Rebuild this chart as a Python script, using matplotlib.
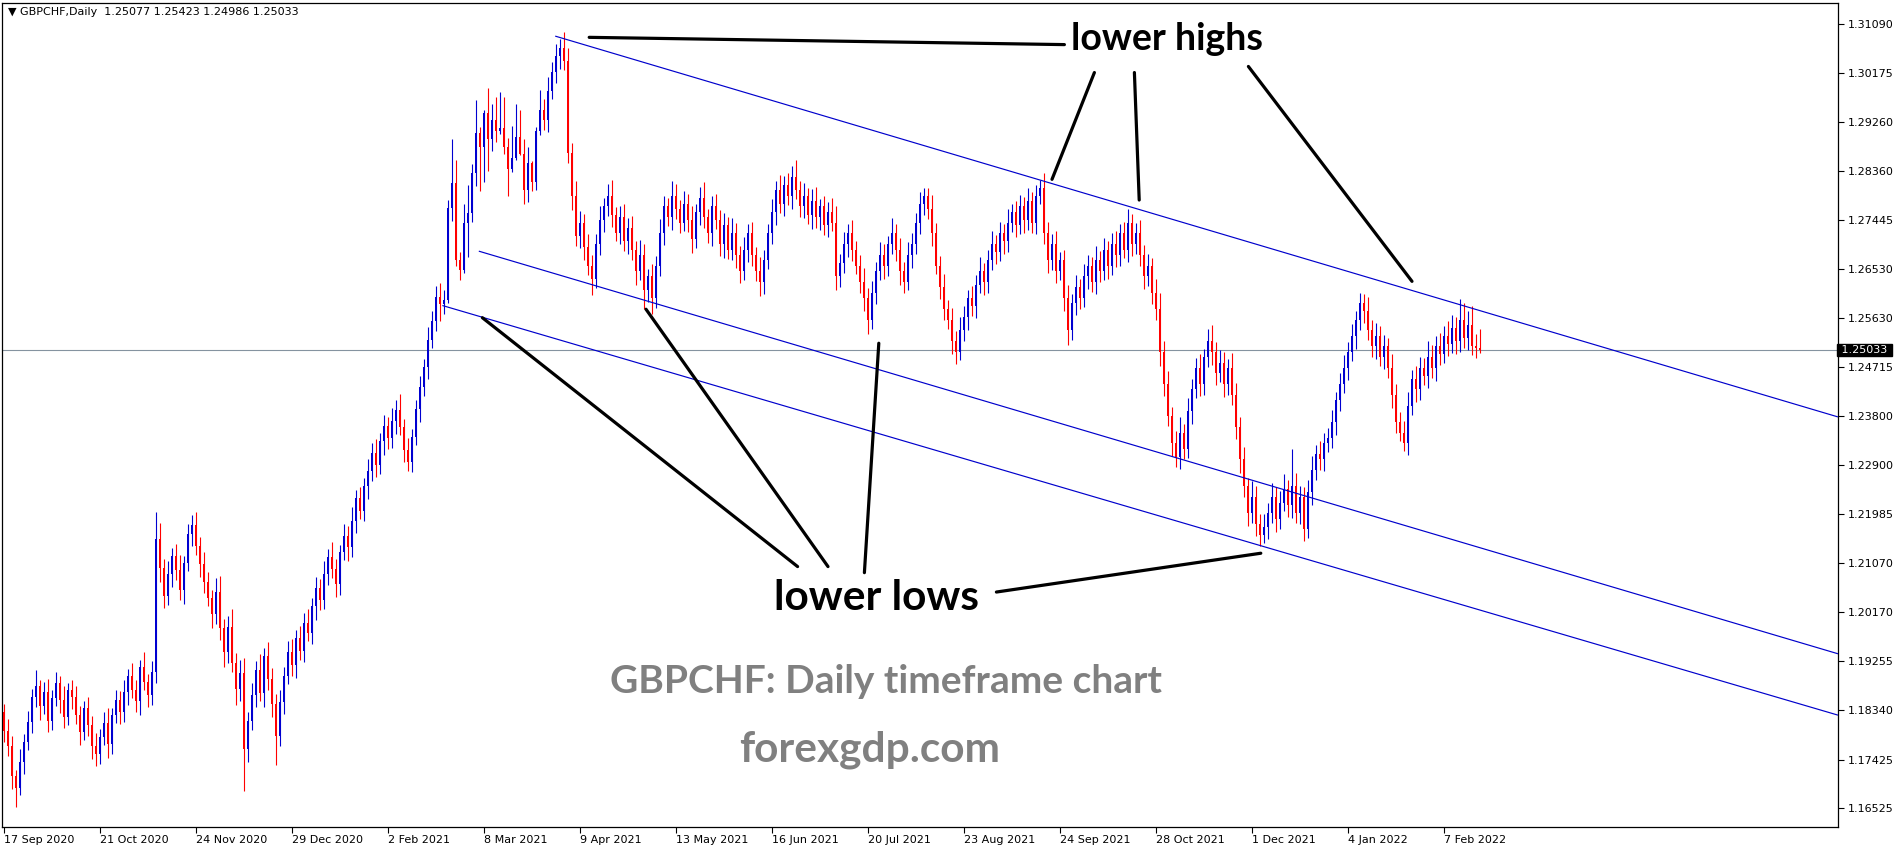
import numpy as np
import pandas as pd
import matplotlib
matplotlib.use('Agg')
import matplotlib.pyplot as plt
import matplotlib.transforms as mtransforms

# ---------------- data ----------------
symbol_header = "\u25bc GBPCHF,Daily  1.25077 1.25423 1.24986 1.25033"
first_open = 1.1830
closes = [
    1.1795, 1.1768, 1.1712, 1.1690, 1.1738, 1.1776, 1.1812, 1.1858, 1.1879, 1.1842,
    1.1868, 1.1815, 1.1856, 1.1885, 1.1853, 1.1822, 1.1871, 1.1858, 1.1826, 1.1794,
    1.1838, 1.1806, 1.1768, 1.1752, 1.1784, 1.1811, 1.1772, 1.1826, 1.1853, 1.1830,
    1.1868, 1.1897, 1.1872, 1.1851, 1.1915, 1.1886, 1.1862, 1.1905, 1.2152, 1.2098,
    1.2046, 1.2087, 1.2121, 1.2094, 1.2058, 1.2107, 1.2161, 1.2178, 1.2140, 1.2106,
    1.2072, 1.2043, 1.2012, 1.2054, 1.1986, 1.1942, 1.1988, 1.1921, 1.1874, 1.1903,
    1.1762, 1.1815, 1.1862, 1.1908, 1.1867, 1.1935, 1.1892, 1.1846, 1.1786, 1.1849,
    1.1898, 1.1942, 1.1918, 1.1968, 1.1945, 1.1996, 1.1978, 1.2028, 1.2061, 1.2039,
    1.2088, 1.2119, 1.2097, 1.2068, 1.2128, 1.2158, 1.2137, 1.2186, 1.2228, 1.2205,
    1.2251, 1.2278, 1.2312, 1.2289, 1.2334, 1.2362, 1.2340, 1.2371, 1.2392, 1.2360,
    1.2318, 1.2296, 1.2342, 1.2393, 1.2435, 1.2471, 1.2522, 1.2558, 1.2602, 1.2588,
    1.2596, 1.2767, 1.2813, 1.2670, 1.2652, 1.2740, 1.2758, 1.2832, 1.2907, 1.2881,
    1.2944, 1.2895, 1.2930, 1.2910, 1.2915, 1.2880, 1.2840, 1.2860, 1.2899, 1.2868,
    1.2800, 1.2850, 1.2815, 1.2910, 1.2950, 1.2930, 1.2985, 1.3020, 1.3050, 1.3065,
    1.3040, 1.2870, 1.2790, 1.2715, 1.2740, 1.2695, 1.2660, 1.2635, 1.2700, 1.2745,
    1.2770, 1.2790, 1.2755, 1.2720, 1.2750, 1.2705, 1.2730, 1.2690, 1.2650, 1.2680,
    1.2615, 1.2640, 1.2600, 1.2660, 1.2720, 1.2770, 1.2750, 1.2790, 1.2765, 1.2740,
    1.2775, 1.2745, 1.2710, 1.2760, 1.2785, 1.2750, 1.2720, 1.2770, 1.2745, 1.2700,
    1.2735, 1.2690, 1.2720, 1.2680, 1.2650, 1.2690, 1.2720, 1.2680, 1.2650, 1.2630,
    1.2670, 1.2720, 1.2760, 1.2800, 1.2775, 1.2810, 1.2790, 1.2825, 1.2800, 1.2770,
    1.2790, 1.2755, 1.2780, 1.2750, 1.2770, 1.2735, 1.2760, 1.2740, 1.2640, 1.2665,
    1.2700, 1.2720, 1.2690, 1.2660, 1.2630, 1.2600, 1.2560, 1.2610, 1.2650, 1.2680,
    1.2660, 1.2700, 1.2720, 1.2690, 1.2650, 1.2630, 1.2680, 1.2700, 1.2740, 1.2775,
    1.2790, 1.2765, 1.2720, 1.2660, 1.2620, 1.2580, 1.2560, 1.2520, 1.2500, 1.2540,
    1.2565, 1.2600, 1.2585, 1.2625, 1.2650, 1.2630, 1.2670, 1.2700, 1.2685, 1.2720,
    1.2705, 1.2740, 1.2760, 1.2735, 1.2770, 1.2745, 1.2780, 1.2740, 1.2790, 1.2805,
    1.2720, 1.2670, 1.2700, 1.2650, 1.2670, 1.2600, 1.2540, 1.2590, 1.2620, 1.2600,
    1.2640, 1.2660, 1.2630, 1.2670, 1.2650, 1.2690, 1.2660, 1.2700, 1.2680, 1.2720,
    1.2690, 1.2740, 1.2700, 1.2720, 1.2680, 1.2640, 1.2660, 1.2610, 1.2580, 1.2500,
    1.2440, 1.2380, 1.2330, 1.2305, 1.2350, 1.2320, 1.2390, 1.2430, 1.2470, 1.2440,
    1.2490, 1.2520, 1.2500, 1.2460, 1.2480, 1.2440, 1.2470, 1.2420, 1.2360, 1.2300,
    1.2250, 1.2200, 1.2230, 1.2180, 1.2160, 1.2175, 1.2200, 1.2230, 1.2190, 1.2220,
    1.2245, 1.2215, 1.2250, 1.2200, 1.2230, 1.2170, 1.2240, 1.2280, 1.2310, 1.2300,
    1.2330, 1.2340, 1.2370, 1.2410, 1.2440, 1.2470, 1.2500, 1.2530, 1.2560, 1.2590,
    1.2575, 1.2540, 1.2510, 1.2530, 1.2490, 1.2510, 1.2470, 1.2420, 1.2370, 1.2350,
    1.2330, 1.2400, 1.2450, 1.2430, 1.2470, 1.2455, 1.2490, 1.2470, 1.2510, 1.2495,
    1.2530, 1.2515, 1.2545, 1.2520, 1.2560, 1.2525, 1.2550, 1.2510, 1.25077, 1.25033,
]
# wick lengths in pips above max(open, close) / below min(open, close)
upper_wick_pips = [
    15, 22, 18, 12, 25, 14, 20, 16, 30, 12,
    18, 24, 15, 20, 12, 26, 14, 19, 22, 16,
    13, 21, 17, 24, 15, 20, 28, 12, 18, 16,
    22, 14, 25, 19, 13, 27, 16, 20, 51, 30,
    18, 24, 15, 22, 28, 14, 20, 18, 25, 16,
    22, 19, 14, 26, 30, 18, 22, 35, 20, 24,
    28, 16, 22, 18, 30, 14, 25, 20, 18, 22,
    16, 20, 24, 15, 22, 18, 26, 14, 20, 17,
    23, 15, 28, 19, 14, 22, 18, 25, 16, 20,
    14, 22, 18, 26, 15, 20, 17, 24, 19, 30,
    16, 22, 14, 18, 20, 15, 24, 17, 20, 26,
    18, 15, 82, 43, 15, 35, 51, 17, 61, 11,
    6, 46, 30, 43, 68, 58, 17, 60, 61, 50,
    27, 31, 4, 8, 36, 20, 25, 18, 22, 17,
    30, 25, 18, 28, 22, 16, 24, 20, 18, 26,
    15, 22, 30, 14, 20, 25, 18, 22, 16, 28,
    20, 14, 24, 18, 26, 20, 15, 28, 22, 17,
    24, 19, 26, 14, 22, 30, 16, 20, 24, 18,
    22, 15, 28, 20, 16, 24, 18, 22, 15, 26,
    20, 17, 24, 18, 28, 16, 22, 20, 31, 18,
    24, 15, 22, 26, 14, 20, 18, 25, 30, 16,
    22, 18, 24, 15, 20, 26, 18, 22, 16, 24,
    20, 15, 28, 18, 22, 16, 24, 20, 18, 22,
    15, 15, 26, 20, 18, 24, 16, 22, 18, 25,
    20, 14, 22, 18, 26, 15, 20, 24, 17, 22,
    18, 26, 14, 20, 22, 18, 24, 16, 20, 15,
    28, 22, 18, 24, 16, 20, 25, 18, 22, 15,
    24, 20, 16, 26, 18, 22, 15, 20, 24, 18,
    22, 26, 16, 20, 24, 18, 22, 15, 26, 30,
    20, 24, 18, 22, 28, 16, 24, 20, 18, 26,
    15, 22, 30, 18, 24, 20, 16, 28, 22, 18,
    24, 15, 30, 20, 18, 24, 20, 26, 18, 22,
    28, 16, 70, 24, 20, 18, 22, 26, 16, 24,
    20, 18, 22, 15, 20, 24, 18, 22, 16, 20,
    18, 26, 20, 24, 18, 22, 16, 25, 20, 18,
    22, 26, 16, 24, 20, 18, 30, 22, 20, 25,
    18, 28, 24, 20, 38, 30, 26, 35, 24, 35,
]
lower_wick_pips = [
    20, 18, 25, 35, 14, 22, 16, 20, 18, 26,
    15, 22, 18, 14, 24, 20, 16, 22, 18, 25,
    16, 20, 24, 22, 18, 14, 26, 20, 16, 22,
    18, 24, 15, 20, 26, 14, 22, 18, 20, 25,
    22, 16, 24, 18, 20, 26, 15, 22, 18, 24,
    20, 16, 25, 18, 22, 28, 20, 16, 30, 22,
    78, 24, 18, 22, 16, 26, 20, 24, 53, 18,
    22, 16, 20, 24, 18, 22, 15, 20, 26, 18,
    16, 22, 18, 24, 20, 15, 26, 18, 22, 16,
    20, 24, 18, 22, 16, 26, 20, 18, 24, 15,
    22, 18, 20, 16, 24, 18, 22, 15, 20, 30,
    18, 6, 24, 10, 19, 6, 64, 17, 24, 82,
    66, 60, 22, 20, 5, 12, 51, 6, 4, 3,
    25, 22, 16, 14, 7, 18, 22, 15, 20, 24,
    16, 20, 26, 18, 22, 24, 18, 30, 16, 20,
    22, 18, 24, 15, 20, 18, 24, 20, 26, 16,
    35, 22, 30, 18, 20, 22, 16, 24, 18, 20,
    15, 22, 26, 18, 24, 20, 18, 24, 16, 22,
    26, 18, 20, 24, 22, 16, 24, 20, 18, 26,
    22, 16, 20, 24, 18, 22, 18, 24, 16, 20,
    22, 18, 26, 20, 24, 18, 22, 16, 26, 20,
    18, 24, 22, 16, 20, 24, 26, 18, 22, 16,
    24, 20, 18, 22, 26, 20, 16, 24, 18, 22,
    20, 18, 24, 16, 22, 20, 18, 24, 22, 16,
    20, 24, 18, 22, 16, 24, 20, 18, 22, 16,
    24, 20, 18, 22, 16, 24, 18, 20, 22, 16,
    20, 24, 18, 22, 16, 24, 28, 18, 22, 20,
    16, 24, 18, 22, 20, 16, 24, 18, 22, 20,
    16, 24, 22, 18, 20, 24, 18, 22, 20, 26,
    22, 18, 24, 19, 22, 20, 18, 24, 16, 22,
    20, 18, 24, 22, 16, 24, 20, 18, 22, 26,
    20, 24, 18, 22, 20, 16, 22, 18, 24, 20,
    16, 22, 24, 18, 20, 22, 16, 24, 18, 20,
    22, 16, 18, 24, 20, 16, 22, 18, 24, 20,
    22, 18, 20, 24, 16, 22, 18, 24, 20, 16,
    15, 22, 18, 24, 20, 16, 22, 18, 24, 20,
    16, 22, 18, 24, 20, 18, 22, 16, 20, 5,
]
current_price = 1.25033
price_ticks = [1.16525, 1.17425, 1.18340, 1.19255, 1.20170, 1.21070, 1.21985,
               1.22900, 1.23800, 1.24715, 1.25630, 1.26530, 1.27445, 1.28360,
               1.29260, 1.30175, 1.31090]
start_date = "2020-09-17"
market_holidays = ["2020-12-25", "2021-01-01"]
date_tick_step = 24

# channel lines: (bar index, price) pairs
channel_upper = [(137.8, 1.30865), (458.5, 1.23790)]
channel_middle = [(118.7, 1.26870), (458.5, 1.19390)]
channel_lower = [(109.6, 1.25860), (458.5, 1.18250)]

# annotation pointer segments (bar index, price)
highs_pointers = [
    [(146.3, 1.30842), (265.1, 1.30707)],
    [(272.6, 1.30188), (262.0, 1.28204)],
    [(282.6, 1.30188), (283.8, 1.27820)],
    [(311.1, 1.30301), (352.0, 1.26309)],
]
lows_pointers = [
    [(198.4, 1.21010), (119.6, 1.25633)],
    [(206.0, 1.21010), (160.5, 1.25791)],
    [(215.1, 1.20897), (218.7, 1.25159)],
    [(248.1, 1.20537), (314.2, 1.21258)],
]
label_highs = ("lower highs", 290.8, 1.30819)
label_lows = ("lower lows", 218.1, 1.20424)
caption1 = ("GBPCHF: Daily timeframe chart", 220.5, 1.18868)
caption2 = ("forexgdp.com", 216.5, 1.17605)

# ---------------- build ----------------
n = len(closes)
closes_a = np.array(closes)
opens_a = np.concatenate([[first_open], closes_a[:-1]])
up = np.array(upper_wick_pips[:n]) * 1e-4
dn = np.array(lower_wick_pips[:n]) * 1e-4
highs_a = np.maximum(opens_a, closes_a) + up
lows_a = np.minimum(opens_a, closes_a) - dn
x = np.arange(n)

dates = pd.bdate_range(start=start_date, periods=n + 10, freq="C",
                       holidays=market_holidays)[:n]

W, H = 1902, 850
fig = plt.figure(figsize=(W / 100, H / 100), dpi=100)
fig.patch.set_facecolor("white")
ax = fig.add_axes([2 / W, 23 / H, 1836 / W, 824 / H])
ax.set_facecolor("white")

bull = "#0000d0"
bear = "#ff0000"
cols = np.where(closes_a >= opens_a, bull, bear)

ax.vlines(x, lows_a, highs_a, colors=cols, linewidth=0.8, zorder=3)
body_bottom = np.minimum(opens_a, closes_a)
body_h = np.maximum(np.abs(closes_a - opens_a), 0.00019)
ax.bar(x, body_h, bottom=body_bottom, width=0.74, color=cols,
       linewidth=0, zorder=4)

# current price line
ax.axhline(current_price, color="#8593a0", linewidth=0.8, zorder=2)

# channel lines
for seg in (channel_upper, channel_middle, channel_lower):
    ax.plot([p[0] for p in seg], [p[1] for p in seg], color="#0000cc",
            linewidth=0.85, zorder=5, solid_capstyle="butt")

# pointers
for seg in highs_pointers + lows_pointers:
    ax.plot([p[0] for p in seg], [p[1] for p in seg], color="black",
            linewidth=2.3, zorder=6, solid_capstyle="round")

ann_font = ["Lato", "DejaVu Sans"]
ax.text(label_highs[1], label_highs[2], label_highs[0], ha="center", va="center",
        fontsize=27, fontweight="bold", family=ann_font, color="black", zorder=7)
ax.text(label_lows[1], label_lows[2], label_lows[0], ha="center", va="center",
        fontsize=30.5, fontweight="bold", family=ann_font, color="black", zorder=7)
ax.text(caption1[1], caption1[2], caption1[0], ha="center", va="center",
        fontsize=28, fontweight="bold", family=ann_font, color="#808080", zorder=7)
ax.text(caption2[1], caption2[2], caption2[0], ha="center", va="center",
        fontsize=30.5, fontweight="bold", family=ann_font, color="#808080", zorder=7)

# axes formatting
ax.set_xlim(-0.5, 458.5)
ax.set_ylim(1.16172, 1.31480)
ax.yaxis.tick_right()
ax.set_yticks(price_ticks)
ax.set_yticklabels([f"{v:.5f}" for v in price_ticks])
tick_idx = list(range(0, n, date_tick_step))
ax.set_xticks(tick_idx)
ax.set_xticklabels([f"{dates[i].day} {dates[i].strftime('%b %Y')}" for i in tick_idx],
                   ha="left")
ax.tick_params(axis="both", direction="out", length=4, width=0.8,
               labelsize=8, colors="black", pad=2)
ax.tick_params(axis="y", pad=3)
for s in ax.spines.values():
    s.set_color("black")
    s.set_linewidth(0.9)

# price tag for current price
trans = mtransforms.blended_transform_factory(ax.transAxes, ax.transData)
ax.text(1.0, current_price, " 1.25033 ", transform=trans, ha="left", va="center",
        fontsize=8, color="white", zorder=10, clip_on=False,
        bbox=dict(boxstyle="square,pad=0.12", fc="black", ec="black"))

# header
fig.text(8 / W, 1 - 12 / H, symbol_header, fontsize=8, va="center", ha="left",
         color="black")

fig.savefig("out.png", dpi=100, facecolor="white")
